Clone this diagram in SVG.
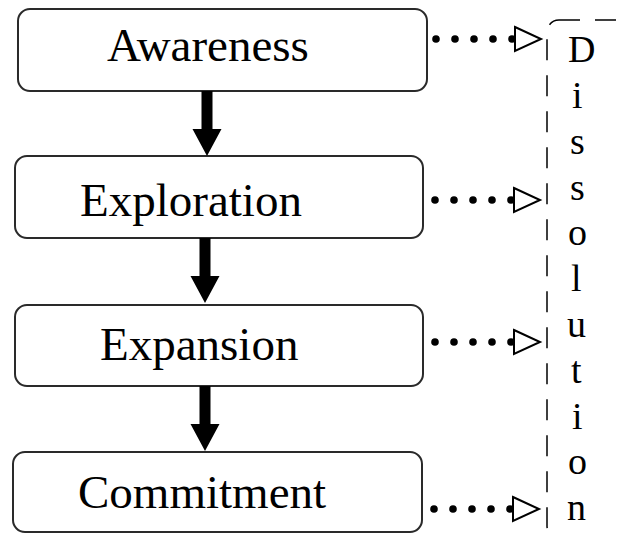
<svg xmlns="http://www.w3.org/2000/svg" width="617" height="533" viewBox="0 0 617 533">
<defs>
<style>
.box{fill:#fff;stroke:#2a2a2a;stroke-width:2}
.lbl{font-family:"Liberation Serif","Times New Roman",serif;font-size:47px;fill:#000}
.dis{font-family:"Liberation Serif","Times New Roman",serif;font-size:38px;fill:#000}
.dot{fill:#000}
.tri{fill:#fff;stroke:#000;stroke-width:2;stroke-linejoin:miter}
.down{fill:#000}
.bracket{fill:none;stroke:#000;stroke-width:1.5;stroke-dasharray:21 15}
</style>
<g id="dots">
<circle class="dot" cx="0" cy="0" r="3.8"/>
<circle class="dot" cx="19" cy="0" r="3.8"/>
<circle class="dot" cx="38" cy="0" r="3.8"/>
<circle class="dot" cx="57" cy="0" r="3.8"/>
<circle class="dot" cx="76" cy="0" r="3.8"/>
<path class="tri" d="M79,-12 L105,0 L79,12 Z"/>
</g>
<path id="darrow" class="down" d="M-5.5,0 H5.5 V38 H14.5 L0,65 L-14.5,38 H-5.5 Z"/>
</defs>
<g id="node-awareness">
<rect class="box" x="18" y="9" width="409" height="82" rx="12"/>
<text class="lbl" x="107" y="61">Awareness</text>
</g>
<g id="node-exploration">
<rect class="box" x="15" y="156" width="408" height="82" rx="12"/>
<text class="lbl" x="80" y="216">Exploration</text>
</g>
<g id="node-expansion">
<rect class="box" x="15" y="305" width="408" height="81" rx="12"/>
<text class="lbl" x="100" y="360">Expansion</text>
</g>
<g id="node-commitment">
<rect class="box" x="13" y="452" width="409" height="80" rx="12"/>
<text class="lbl" x="78" y="508">Commitment</text>
</g>
<g id="node-dissolution">
<rect class="bracket" x="547" y="20" width="200" height="518" rx="12"/>
<text class="dis" x="568" y="62">D<tspan x="572" y="108">i</tspan><tspan x="570" y="154">s</tspan><tspan x="570" y="200">s</tspan><tspan x="568" y="245">o</tspan><tspan x="571" y="291">l</tspan><tspan x="567" y="337">u</tspan><tspan x="571" y="383">t</tspan><tspan x="572" y="429">i</tspan><tspan x="568" y="474">o</tspan><tspan x="567" y="520">n</tspan></text>
</g>
<g id="connectors">
<use href="#darrow" x="207" y="91"/>
<use href="#darrow" x="205" y="238"/>
<use href="#darrow" x="205" y="386"/>
<use href="#dots" x="436" y="39"/>
<use href="#dots" x="435" y="200"/>
<use href="#dots" x="435" y="342"/>
<use href="#dots" x="434" y="509"/>
</g>
</svg>
